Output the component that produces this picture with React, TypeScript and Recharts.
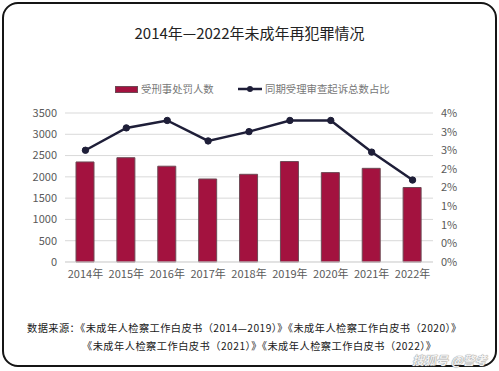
import { ComposedChart, Bar, Line, XAxis, YAxis, CartesianGrid } from 'recharts'

const years = ['2014年', '2015年', '2016年', '2017年', '2018年', '2019年', '2020年', '2021年', '2022年']
const punished = [2350, 2450, 2250, 1950, 2060, 2360, 2100, 2200, 1750]
const ratio = [3.0, 3.6, 3.8, 3.25, 3.5, 3.8, 3.8, 2.95, 2.2]
const leftTicks = [0, 500, 1000, 1500, 2000, 2500, 3000, 3500]
const rightTicks = [0, 0.5, 1, 1.5, 2, 2.5, 3, 3.5, 4]

const data = years.map((year, i) => ({ year, punished: punished[i], ratio: ratio[i] }))

const font = '"Noto Sans CJK SC", "Noto Sans", sans-serif'
const tick = { fontSize: 11, fill: '#5a5a5a', fontFamily: font }

export default function App() {
  return (
    <div style={{ position: 'absolute', left: 0, top: 0, width: 499, height: 371, background: '#fff', fontFamily: font, overflow: 'hidden' }}>
      <div style={{ position: 'absolute', left: 2, top: 2, width: 495, height: 365, border: '2px solid #151515', borderRadius: 16, boxSizing: 'border-box' }} />
      <div style={{ position: 'absolute', left: 0, top: 22, width: 499, textAlign: 'center', fontSize: 15, color: '#222' }}>
        2014年—2022年未成年再犯罪情况
      </div>

      {/* legend */}
      <div style={{ position: 'absolute', left: 115, top: 86, width: 23, height: 7, background: '#a3123f', border: '1px solid #6e4a55', boxSizing: 'border-box' }} />
      <div style={{ position: 'absolute', left: 141, top: 81, fontSize: 10.4, color: '#777', whiteSpace: 'nowrap' }}>受刑事处罚人数</div>
      <svg style={{ position: 'absolute', left: 237, top: 84 }} width={26} height={10}>
        <line x1={1} y1={5} x2={25} y2={5} stroke="#1e1e38" strokeWidth={2.5} />
        <circle cx={13} cy={5} r={3} fill="#1e1e38" />
      </svg>
      <div style={{ position: 'absolute', left: 265, top: 81, fontSize: 10.4, color: '#777', whiteSpace: 'nowrap' }}>同期受理审查起诉总数占比</div>

      <div style={{ position: 'absolute', top: 0, left: 0 }}>
        <ComposedChart width={499} height={371} data={data} margin={{ top: 113, right: 16, left: 15, bottom: 79 }}>
          <CartesianGrid vertical={false} stroke="#d9d9d9" />
          <XAxis dataKey="year" height={30} tick={tick} tickLine={false} axisLine={{ stroke: '#d9d9d9' }} interval={0} />
          <YAxis width={50} domain={[0, 3500]} ticks={leftTicks} interval={0} tick={tick} tickLine={false} axisLine={false} />
          <YAxis yAxisId="right" orientation="right" width={50} domain={[0, 4]} ticks={rightTicks} interval={0} tick={tick} tickLine={false} axisLine={false} tickFormatter={(v: number) => `${Math.floor(v)}%`} />
          <Bar dataKey="punished" fill="#a3123f" stroke="#6e4a55" strokeWidth={1} barSize={18} isAnimationActive={false} />
          <Line yAxisId="right" dataKey="ratio" stroke="#1e1e38" strokeWidth={2.5} dot={{ r: 3.2, fill: '#1e1e38', stroke: '#1e1e38', strokeWidth: 1 }} isAnimationActive={false} />
        </ComposedChart>
      </div>

      <div style={{ position: 'absolute', left: 27, top: 320, fontSize: 10.2, letterSpacing: 0.45, color: '#1a1a1a', whiteSpace: 'nowrap' }}>
        数据来源：《未成年人检察工作白皮书（2014—2019）》《未成年人检察工作白皮书（2020）》
      </div>
      <div style={{ position: 'absolute', left: 82, top: 338, fontSize: 10.2, letterSpacing: 0.5, color: '#1a1a1a', whiteSpace: 'nowrap' }}>
        《未成年人检察工作白皮书（2021）》《未成年人检察工作白皮书（2022）》
      </div>
      <div style={{ position: 'absolute', left: 412, top: 351, fontSize: 12, color: '#f4f4f4', fontStyle: 'italic', fontWeight: 700, whiteSpace: 'nowrap', textShadow: '0 0 1px #888, 0 0 1px #888' }}>
        搜狐号 @警考
      </div>
    </div>
  )
}
